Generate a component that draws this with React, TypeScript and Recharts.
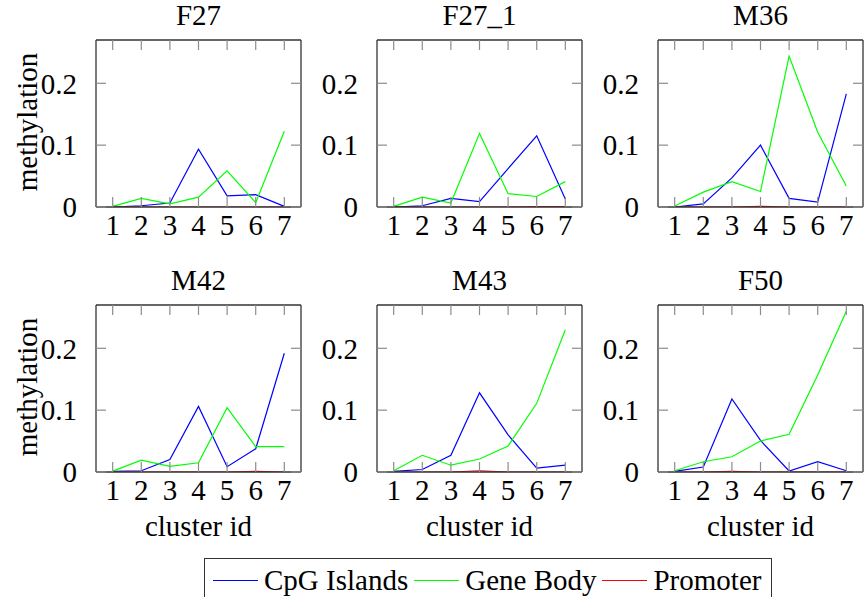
import React from 'react';
import { LineChart, Line, XAxis, YAxis } from 'recharts';

const clusterIds = [1, 2, 3, 4, 5, 6, 7];
const panelTitles = ['F27', 'F27_1', 'M36', 'M42', 'M43', 'F50'];
const yTicks = [0, 0.1, 0.2];
const seriesNames = ['CpG Islands', 'Gene Body', 'Promoter'];

const cpgIslands = [
  [0.0, 0.002, 0.0065, 0.0935, 0.018, 0.02, 0.001],
  [0.0, 0.002, 0.014, 0.0086, 0.062, 0.115, 0.013],
  [0.0, 0.005, 0.047, 0.1, 0.014, 0.008, 0.183],
  [0.001, 0.002, 0.02, 0.106, 0.0086, 0.0376, 0.192],
  [0.001, 0.004, 0.027, 0.128, 0.06, 0.0064, 0.011],
  [0.001, 0.008, 0.118, 0.051, 0.0016, 0.0166, 0.002],
];
const geneBody = [
  [0.001, 0.014, 0.005, 0.016, 0.0586, 0.007, 0.1226],
  [0.001, 0.016, 0.0065, 0.119, 0.0215, 0.017, 0.041],
  [0.0015, 0.024, 0.041, 0.025, 0.244, 0.121, 0.034],
  [0.0015, 0.019, 0.009, 0.015, 0.104, 0.041, 0.041],
  [0.002, 0.027, 0.011, 0.021, 0.042, 0.111, 0.23],
  [0.002, 0.0166, 0.0246, 0.05, 0.061, 0.157, 0.26],
];
const promoter = [
  [0.0, 0.0, 0.0, 0.0, 0.0, 0.0, 0.0],
  [0.0, 0.0, 0.0, 0.0, 0.0, 0.0005, 0.0005],
  [0.0, 0.0, 0.0, 0.001, 0.0, 0.0, 0.0],
  [0.0, 0.0, 0.0, 0.0, 0.0, 0.001, 0.0],
  [0.0, 0.0, 0.0, 0.002, 0.0, 0.0, 0.0],
  [0.0, 0.0, 0.001, 0.0, 0.0, 0.0, 0.0],
];

const colors = ['#0000ff', '#00ff00', '#ff0000'];
const FONT = '"Liberation Serif", "DejaVu Serif", serif';
const FS = 29;
const BOX_W = 205;
const BOX_H = 167;
const Y_AXIS_W = 70;
const colLefts = [96, 377, 658];
const rowTops = [40, 305];
const xDomain = [0.4167, 7.5833];
const yDomain = [0, 0.27];

const axisLineStyle = { stroke: '#333', strokeWidth: 1.3 };
const tickLineStyle = { stroke: '#8c8c8c', strokeWidth: 1.2 };
const blankLabel = () => '';

function Panel({ idx }: { idx: number }) {
  const col = idx % 3;
  const row = Math.floor(idx / 3);
  const left = colLefts[col];
  const top = rowTops[row];
  const data = clusterIds.map((c, i) => ({
    x: c,
    cpg: cpgIslands[idx][i],
    gene: geneBody[idx][i],
    prom: promoter[idx][i],
  }));
  const tickStyle = { fill: '#000', fontSize: FS, fontFamily: FONT };
  return (
    <>
      <div
        style={{
          position: 'absolute',
          left: left + BOX_W / 2,
          top: top - 25,
          transform: 'translate(-50%, -50%)',
          fontFamily: FONT,
          fontSize: FS,
          lineHeight: 1,
          whiteSpace: 'nowrap',
        }}
      >
        {panelTitles[idx]}
      </div>
      <div style={{ position: 'absolute', left: left - Y_AXIS_W, top: top - 4 }}>
        <LineChart
          width={Y_AXIS_W + BOX_W + 4}
          height={4 + BOX_H + 40}
          data={data}
          margin={{ top: 2, right: 2, left: 0, bottom: 0 }}
          style={{ fontFamily: FONT }}
        >
          <XAxis
            xAxisId="b"
            dataKey="x"
            type="number"
            domain={xDomain}
            ticks={clusterIds}
            interval={0}
            allowDataOverflow
            orientation="bottom"
            height={40}
            tickSize={-10}
            tickMargin={17}
            axisLine={axisLineStyle}
            tickLine={tickLineStyle}
            tick={tickStyle}
          />
          <XAxis
            xAxisId="t"
            dataKey="x"
            type="number"
            domain={xDomain}
            ticks={clusterIds}
            interval={0}
            allowDataOverflow
            orientation="top"
            height={2}
            tickSize={-10}
            axisLine={axisLineStyle}
            tickLine={tickLineStyle}
            tick={{ fill: 'none', fontSize: 1 }}
            tickFormatter={blankLabel}
          />
          <YAxis
            yAxisId="l"
            type="number"
            domain={yDomain}
            ticks={yTicks}
            interval={0}
            allowDataOverflow
            width={Y_AXIS_W}
            tickSize={-10}
            tickMargin={29}
            axisLine={axisLineStyle}
            tickLine={tickLineStyle}
            tick={tickStyle}
          />
          <YAxis
            yAxisId="r"
            orientation="right"
            type="number"
            domain={yDomain}
            ticks={yTicks}
            interval={0}
            allowDataOverflow
            width={2}
            tickSize={-10}
            axisLine={axisLineStyle}
            tickLine={tickLineStyle}
            tick={{ fill: 'none', fontSize: 1 }}
            tickFormatter={blankLabel}
          />
          <Line xAxisId="t" yAxisId="r" dataKey="cpg" stroke="none" dot={false} activeDot={false} legendType="none" isAnimationActive={false} />
          <Line xAxisId="b" yAxisId="l" dataKey="cpg" name={seriesNames[0]} stroke={colors[0]} strokeWidth={1.2} dot={false} isAnimationActive={false} />
          <Line xAxisId="b" yAxisId="l" dataKey="gene" name={seriesNames[1]} stroke={colors[1]} strokeWidth={1.2} dot={false} isAnimationActive={false} />
          <Line xAxisId="b" yAxisId="l" dataKey="prom" name={seriesNames[2]} stroke={colors[2]} strokeWidth={1.2} dot={false} isAnimationActive={false} />
        </LineChart>
      </div>
      {col === 0 && (
        <div
          style={{
            position: 'absolute',
            left: 27,
            top: top + BOX_H / 2 - 2,
            transform: 'translate(-50%, -50%) rotate(-90deg)',
            fontFamily: FONT,
            fontSize: FS,
            lineHeight: 1,
            whiteSpace: 'nowrap',
          }}
        >
          methylation
        </div>
      )}
      {row === 1 && (
        <div
          style={{
            position: 'absolute',
            left: left + BOX_W / 2,
            top: 526,
            transform: 'translate(-50%, -50%)',
            fontFamily: FONT,
            fontSize: FS,
            lineHeight: 1,
            whiteSpace: 'nowrap',
          }}
        >
          cluster id
        </div>
      )}
    </>
  );
}

function Legend() {
  return (
    <div
      style={{
        position: 'absolute',
        left: 204,
        top: 558,
        width: 568,
        height: 44,
        boxSizing: 'border-box',
        border: '1.3px solid #333',
        display: 'flex',
        alignItems: 'center',
        paddingLeft: 8,
        fontFamily: FONT,
        fontSize: FS,
        lineHeight: 1,
        whiteSpace: 'nowrap',
      }}
    >
      {seriesNames.map((n, i) => (
        <div key={n} style={{ display: 'flex', alignItems: 'center', marginRight: 6 }}>
          <div style={{ width: 45, height: 0, borderTop: `1.3px solid ${colors[i]}`, marginRight: 6 }} />
          <span>{n}</span>
        </div>
      ))}
    </div>
  );
}

export default function App() {
  return (
    <div
      style={{
        position: 'absolute',
        left: 0,
        top: 0,
        width: 867,
        height: 597,
        background: '#fff',
        overflow: 'hidden',
      }}
    >
      {panelTitles.map((_, i) => (
        <Panel key={i} idx={i} />
      ))}
      <Legend />
    </div>
  );
}
